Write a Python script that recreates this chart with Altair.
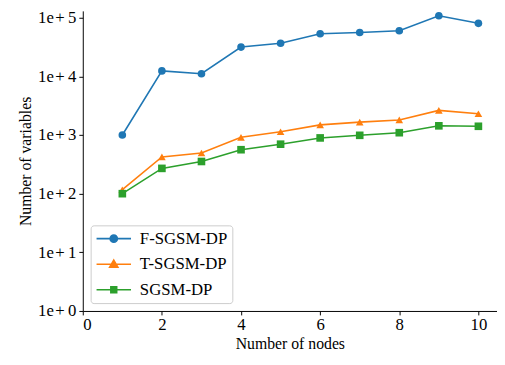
import altair as alt
import pandas as pd

nodes = [1, 2, 3, 4, 5, 6, 7, 8, 9, 10]
f_sgsm = [1000, 12400, 11100, 31600, 36700, 53300, 56100, 59900, 108000, 80300]
t_sgsm = [117, 424, 493, 914, 1140, 1490, 1660, 1810, 2630, 2310]
sgsm = [100, 270, 354, 562, 698, 893, 989, 1096, 1436, 1410]

series = ["F-SGSM-DP", "T-SGSM-DP", "SGSM-DP"]
colors = ["#1f77b4", "#ff7f0e", "#2ca02c"]
x_ticks = [0, 2, 4, 6, 8, 10]
y_ticks = [1, 10, 100, 1000, 10000, 100000]

rows = []
for name, vals in zip(series, [f_sgsm, t_sgsm, sgsm]):
    for n, v in zip(nodes, vals):
        rows.append({"nodes": n, "vars": v, "method": name})
df = pd.DataFrame(rows)

FONT = "Liberation Serif"

x = alt.X("nodes:Q", scale=alt.Scale(domain=[0, 10.47], nice=False, zero=False),
          axis=alt.Axis(values=x_ticks, title="Number of nodes", format="d"))
y = alt.Y("vars:Q", scale=alt.Scale(type="log", domain=[1, 131000], nice=False),
          axis=alt.Axis(values=y_ticks, title="Number of variables",
                        labelExpr="'1e\u200a+\u2009' + round(log(datum.value) / LN10)"))

color_scale = alt.Scale(domain=series, range=colors)

lines = alt.Chart(df).mark_line(strokeWidth=1.6).encode(
    x=x, y=y, color=alt.Color("method:N", scale=color_scale, legend=None)
)
points = alt.Chart(df).mark_point(filled=True, size=60, opacity=1).encode(
    x=x, y=y,
    color=alt.Color("method:N", scale=color_scale, legend=None),
    shape=alt.Shape("method:N", scale=alt.Scale(domain=series, range=["circle", "triangle-up", "square"]), legend=None),
)

leg_paths = [
    "M-1,0H1M-0.21,0A0.21,0.21,0,1,0,0.21,0A0.21,0.21,0,1,0,-0.21,0Z",
    "M-1,0H1M0,-0.24L0.24,0.18L-0.24,0.18Z",
    "M-1,0H1M-0.17,-0.17H0.17V0.17H-0.17Z",
]
leg = alt.Legend(title=None, orient="none", legendX=8, legendY=218)
legend_layer = alt.Chart(df).mark_point(filled=True, size=1225, opacity=0, strokeWidth=1.6).encode(
    x=x, y=y,
    fill=alt.Fill("method:N", scale=color_scale, legend=leg),
    stroke=alt.Stroke("method:N", scale=color_scale, legend=leg),
    shape=alt.Shape("method:N", scale=alt.Scale(domain=series, range=leg_paths), legend=leg),
)

chart = alt.layer(lines, points, legend_layer).resolve_scale(
    shape="independent", fill="independent", stroke="independent"
).properties(
    width=421, height=305,
    autosize=alt.AutoSizeParams(type="none"),
    padding={"left": 76, "top": 0, "right": 0, "bottom": 52},
).configure_view(stroke=None).configure_axis(
    grid=False, domainColor="black", domainWidth=1, tickColor="black", tickSize=4,
    labelColor="black", titleColor="black", labelFont=FONT, titleFont=FONT,
    labelFontSize=17, titleFontSize=16, titleFontWeight="normal",
).configure_axisY(labelPadding=3, titlePadding=4).configure_axisX(labelPadding=2, titlePadding=3).configure_legend(
    labelFont=FONT, labelFontSize=17, labelColor="black",
    padding=5, symbolSize=1225, symbolStrokeWidth=1.6, symbolOpacity=1,
    clipHeight=17, rowPadding=8, labelOffset=8,
    fillColor="white", strokeColor="#cccccc", cornerRadius=3,
)

chart.save("out.html", embed_options={"renderer": "svg", "actions": False})
